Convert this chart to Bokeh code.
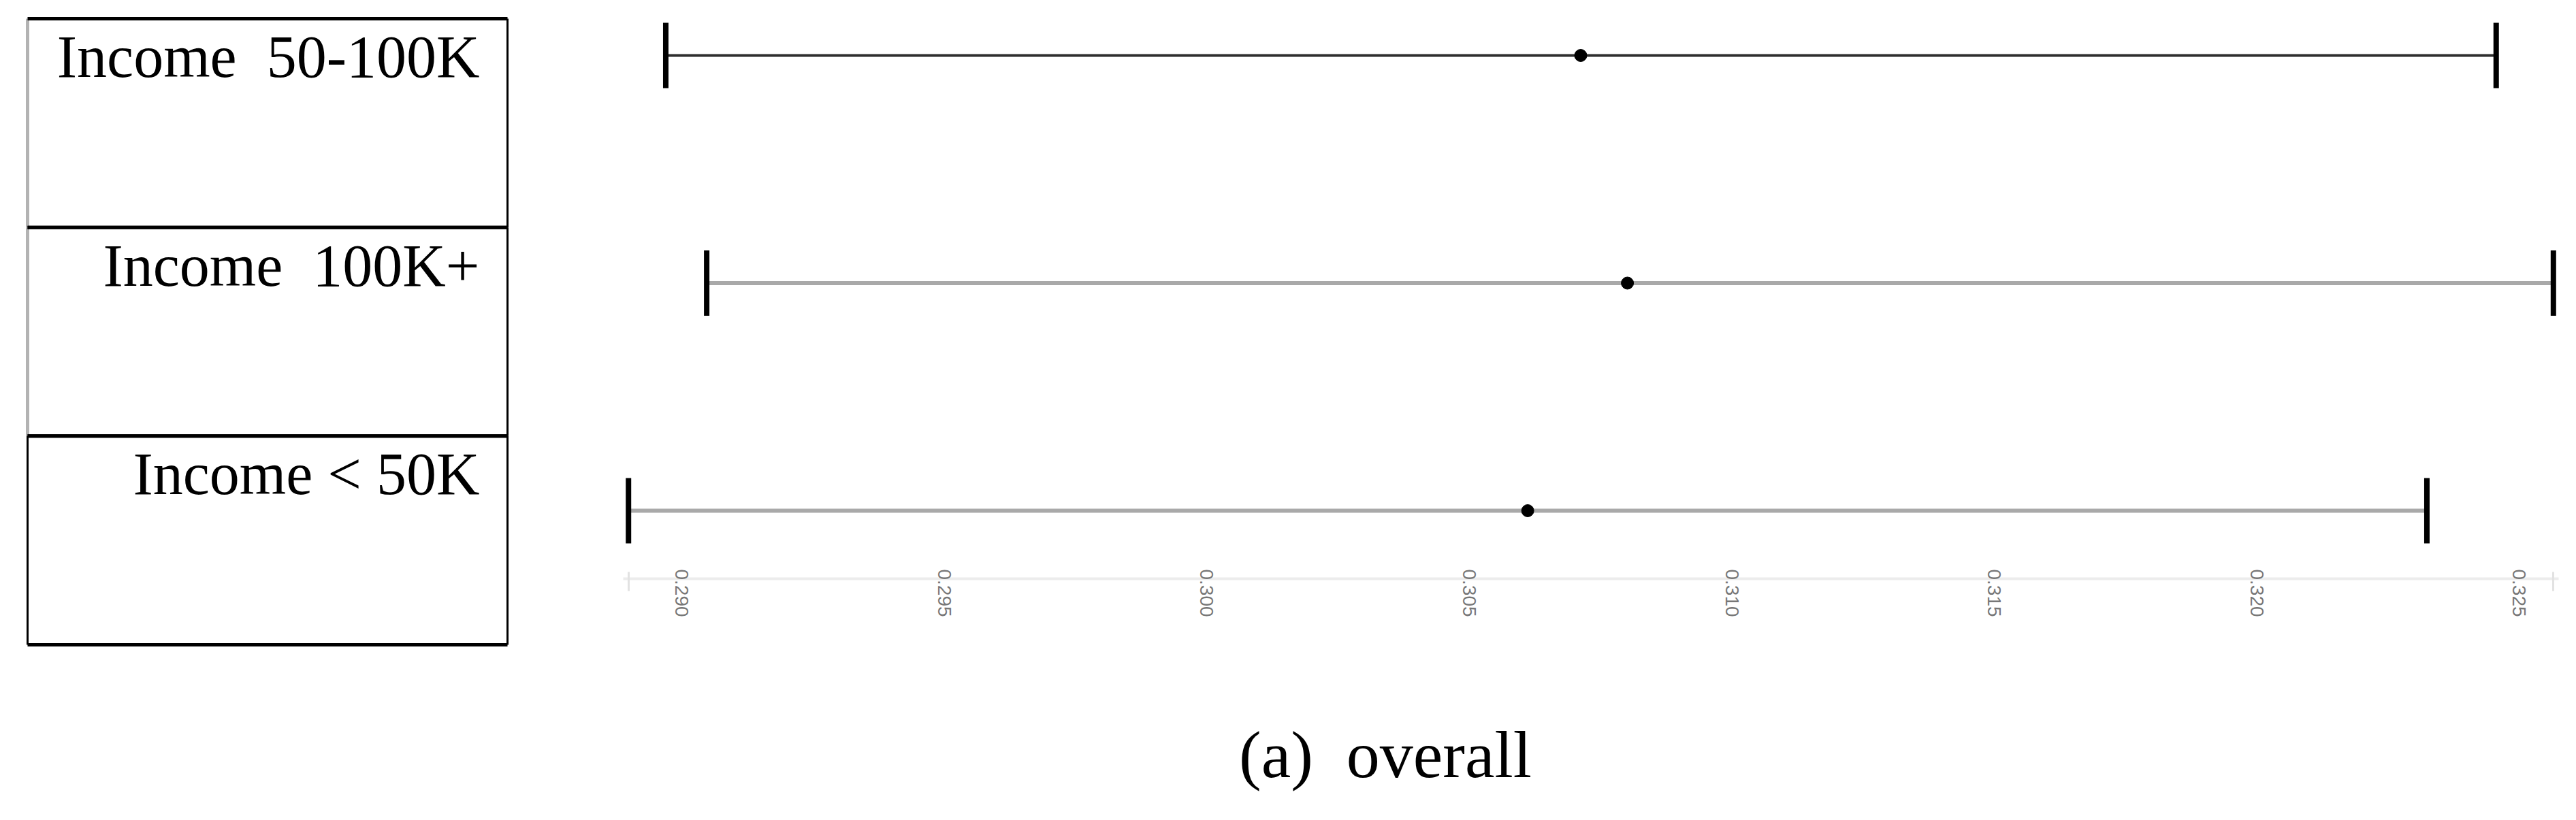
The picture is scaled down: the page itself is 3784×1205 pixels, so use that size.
from bokeh.plotting import figure
from bokeh.models import ColumnDataSource, Range1d, FixedTicker, PrintfTickFormatter, Div
from bokeh.layouts import row, column
from bokeh.core.properties import value
from bokeh.embed import file_html
from bokeh.resources import INLINE

# ---- data ----
categories = ["Income  50-100K", "Income  100K+", "Income < 50K"]
means = [0.30712, 0.30801, 0.30611]
lower = [0.28969, 0.29047, 0.28898]
upper = [0.32456, 0.32565, 0.32324]
tick_values = [0.290, 0.295, 0.300, 0.305, 0.310, 0.315, 0.320, 0.325]
caption = "(a)  overall"

# ---- styles ----
bar_colors = ["#2e2e2e", "#a9a9a9", "#a9a9a9"]
bar_widths = [4, 6, 6]
left_border_colors = ["#b3b3b3", "#b3b3b3", "#000000"]
left_border_widths = [5, 5, 3]

n = len(categories)
pos = [n - 1 - i for i in range(n)]  # top row first
# keep the double spaces visible in SVG text
display_labels = [c.replace("  ", " \u00a0") for c in categories]

H = 960
FRAME_BOTTOM = 110  # both figures share the same frame (0..850 px)

# ---------------- table figure ----------------
row_px = 306.67
t_end = n - 0.5 + 27 / row_px
t_start = t_end - (H - FRAME_BOTTOM) / row_px
tab = figure(width=760, height=H, output_backend="svg", toolbar_location=None,
             x_axis_location=None, y_axis_location=None,
             min_border_left=0, min_border_right=0, min_border_top=0,
             min_border_bottom=FRAME_BOTTOM,
             x_range=Range1d(-40 / 705, 1 + 15 / 705),
             y_range=Range1d(t_start, t_end))
tab.grid.visible = False
tab.outline_line_color = None
tab.background_fill_color = "white"
tab.border_fill_color = "white"

tsrc = ColumnDataSource(dict(
    label=display_labels,
    top=[p + 0.5 for p in pos],
    bottom=[p - 0.5 for p in pos],
    lcol=left_border_colors,
    lw=left_border_widths,
    x0=[0.0] * n, x1=[1.0] * n,
))
tab.segment(x0="x0", y0="bottom", x1="x0", y1="top", line_color="lcol", line_width="lw",
            source=tsrc, level="overlay")
tab.segment(x0="x1", y0="bottom", x1="x1", y1="top", line_color="black", line_width=3,
            source=tsrc, level="overlay")
tab.segment(x0="x0", y0="top", x1="x1", y1="top", line_color="black", line_width=5,
            source=tsrc, level="overlay")
tab.segment(x0="x0", y0="bottom", x1="x1", y1="bottom", line_color="black", line_width=5,
            source=tsrc, level="overlay")
tab.text(x="x1", y="top", text="label", source=tsrc, x_offset=-41, y_offset=56,
         text_align="right", text_baseline="alphabetic",
         text_font=value("Liberation Serif"), text_font_size="88px", text_color="black",
         level="overlay")

# ---------------- error-bar figure ----------------
xmin, xmax = min(lower), max(upper)
pad = 0.0001
p = figure(width=3008, height=H, output_backend="svg", toolbar_location=None,
           y_axis_location=None,
           min_border_left=155, min_border_right=10, min_border_top=0,
           min_border_bottom=FRAME_BOTTOM,
           x_range=Range1d(xmin - pad, xmax + pad),
           y_range=Range1d(-0.29895, (n - 1) + 81 / 334.5))
p.grid.visible = False
p.outline_line_color = None
p.background_fill_color = "white"
p.border_fill_color = "white"

src = ColumnDataSource(dict(
    y=pos, mean=means, lower=lower, upper=upper, col=bar_colors, w=bar_widths,
))
p.segment(x0="lower", y0="y", x1="upper", y1="y", line_color="col", line_width="w", source=src)
p.scatter(x="lower", y="y", marker="dash", angle=1.5707963, size=96,
          line_color="black", line_width=8, source=src)
p.scatter(x="upper", y="y", marker="dash", angle=1.5707963, size=96,
          line_color="black", line_width=8, source=src)
p.scatter(x="mean", y="y", marker="circle", size=18, fill_color="black",
          line_color="black", source=src)

ax = p.xaxis[0]
ax.ticker = FixedTicker(ticks=tick_values, minor_ticks=[xmin, xmax])
ax.formatter = PrintfTickFormatter(format="%.3f")
ax.axis_line_color = "#ececec"
ax.axis_line_width = 4
ax.major_tick_line_color = None
ax.major_tick_in = 0
ax.major_tick_out = 0
ax.minor_tick_line_color = "#e2e2e2"
ax.minor_tick_line_width = 3
ax.minor_tick_in = 10
ax.minor_tick_out = 18
ax.major_label_orientation = "vertical"
ax.major_label_standoff = -32
ax.major_label_text_font = "Liberation Sans"
ax.major_label_text_font_size = "28px"
ax.major_label_text_color = "#777777"

# ---------------- caption ----------------
cap = Div(text=(
    '<div style="box-sizing:border-box;width:3768px;padding-left:292px;padding-top:95px;'
    'text-align:center;white-space:pre;font-family:\'Liberation Serif\';font-size:98px;'
    'line-height:98px;color:#000;">' + caption + '</div>'),
    width=3768, height=225)

layout = column(row(tab, p), cap)
open("out.html", "w").write(file_html(layout, INLINE))
